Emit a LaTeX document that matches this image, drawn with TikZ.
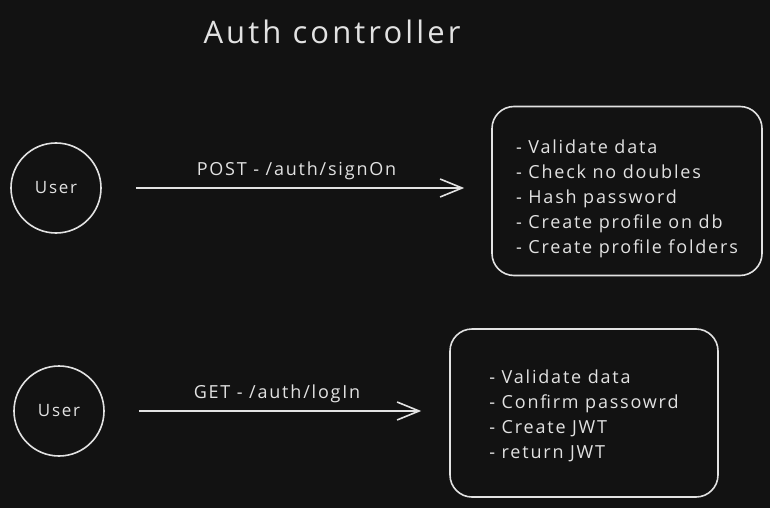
\documentclass[tikz,border=0pt]{standalone}
\usepackage{fontspec}
\setmainfont{Open Sans}
\newfontfamily\sketchfont[LetterSpace=10]{Open Sans}
\usetikzlibrary{arrows.meta,positioning}
\definecolor{bgcolor}{HTML}{121212}
\definecolor{inkcolor}{HTML}{E2E2E2}

\begin{document}
\begin{tikzpicture}[x=1pt,y=-1pt,>={Straight Barb[length=22pt,width=18pt]}]

    \tikzstyle{commonNode}=[draw=inkcolor, text=inkcolor, line width=1.6pt]
    \tikzstyle{user}=[commonNode, circle, minimum size=90pt, inner sep=0pt, font=\sketchfont\fontsize{17}{20}\selectfont]
    \tikzstyle{task}=[commonNode, rectangle, rounded corners=22pt, align=left, font=\sketchfont\fontsize{18}{25}\selectfont]
    \tikzstyle{route}=[draw=inkcolor, line width=1.6pt, ->]
    \tikzstyle{routeLabel}=[text=inkcolor, font=\sketchfont\fontsize{18}{20}\selectfont, above=4pt]

    % Background
    \fill[bgcolor] (0,0) rectangle (770,508);
    \useasboundingbox (0,0) rectangle (770,508);

    % Title
    \node at (332,32) [text=inkcolor, font=\sketchfont\fontsize{31}{34}\selectfont] (title) {Auth controller};

    % Sign on
    \node at (56,188) [user] (userA) {User};
    \node at (627,191) [task, minimum width=270pt, minimum height=169pt] (signOn)
        {\rule{0pt}{29pt}- Validate data\\- Check no doubles\\- Hash password\\- Create profile on db\\- Create profile folders};
    \draw [route, shorten <=34pt, shorten >=27pt] (userA) -- (userA -| signOn.west)
        node [midway, routeLabel] {POST - /auth/signOn};

    % Log in
    \node at (59,411) [user] (userB) {User};
    \node at (584,413) [task, minimum width=268pt, minimum height=168pt] (logIn)
        {\rule{0pt}{19pt}- Validate data\\- Confirm passowrd\\- Create JWT\\- return JWT};
    \draw [route, shorten <=34pt, shorten >=28pt] (userB) -- (userB -| logIn.west)
        node [midway, routeLabel] {GET - /auth/logIn};

\end{tikzpicture}
\end{document}
